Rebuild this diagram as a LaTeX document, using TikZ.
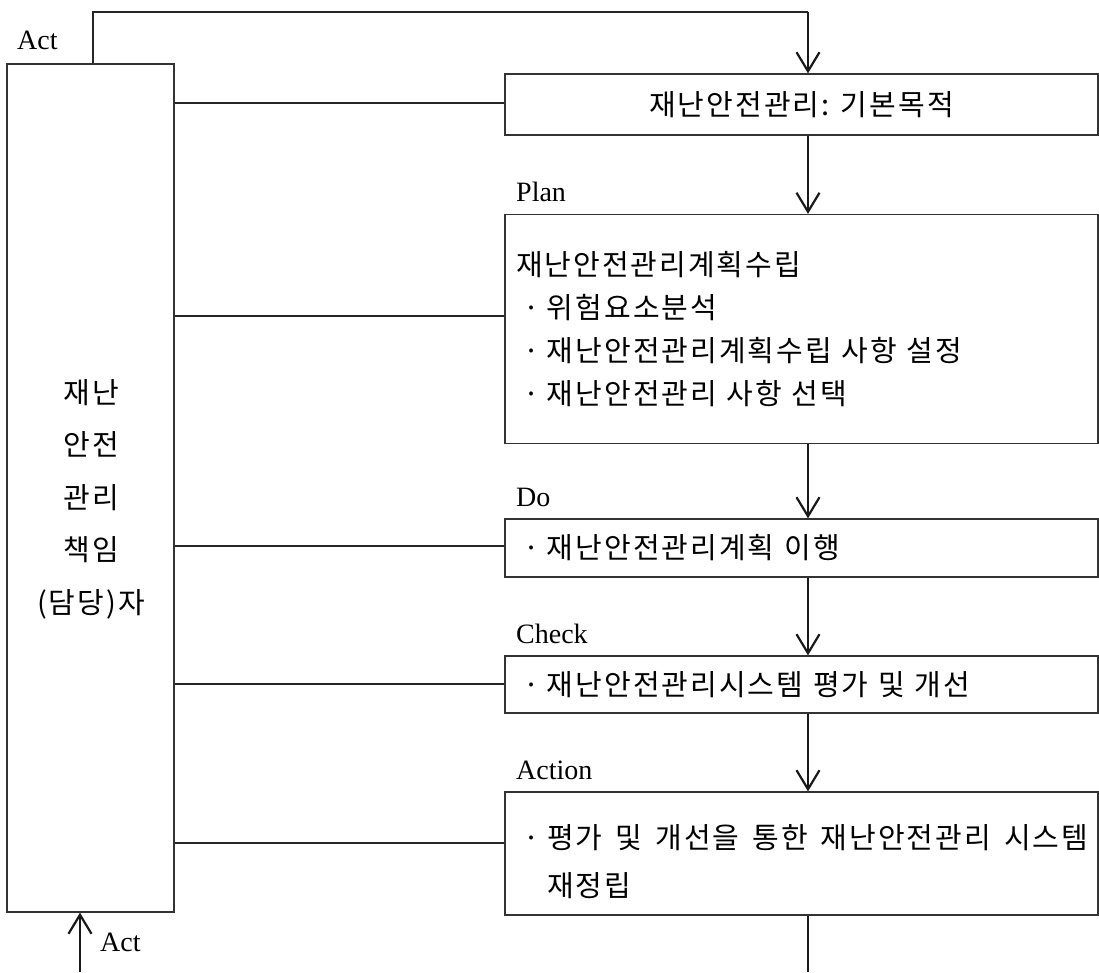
\documentclass[tikz,border=0pt]{standalone}
\usepackage{fontspec}
\setmainfont{Liberation Serif}
\newfontfamily\kr[LetterSpace=7]{Noto Sans CJK KR}
\newcommand\kbul{\makebox[31pt][c]{·}}
\usetikzlibrary{arrows.meta}
\begin{document}
\begin{tikzpicture}[x=1pt,y=-1pt,
  box/.style={draw=black!80, line width=1.3pt, inner sep=0pt, minimum width=593pt, font=\kr\fontsize{29}{43}\selectfont},
  lbox/.style={box, text width=571pt, inner xsep=11pt, align=left},
  conn/.style={draw=black!85, line width=1.3pt},
  flow/.style={draw=black!90, line width=2.2pt, -{Straight Barb[length=19pt,width=23pt,line width=2.2pt]}},
  plain/.style={draw=black!90, line width=2.2pt},
  txt/.style={inner sep=0pt, font=\kr\fontsize{29}{43}\selectfont},
  lbl/.style={font=\fontsize{28}{30}\selectfont, inner sep=0pt, anchor=west}]
\useasboundingbox (0,0) rectangle (1099,972);
% left box
\node[draw=black!80, line width=1.3pt, inner sep=0pt, minimum width=167pt, minimum height=848pt] (L) at (90.5,488) {};
\node[txt, align=center, font=\kr\fontsize{29}{52.5}\selectfont] (Ltext) at (91,499)
  {재난\\안전\\관리\\책임\\(담당)자};
% right boxes
\node[box, minimum height=61pt] (B1) at (801.5,104.5) {재난안전관리: 기본목적};
\node[lbox, minimum height=229pt] (B2) at (801.5,329)
  {재난안전관리계획수립\\\kbul{}위험요소분석\\\kbul{}재난안전관리계획수립 사항 설정\\\kbul{}재난안전관리 사항 선택};
\node[lbox, minimum height=58pt] (B3) at (801.5,548) {\kbul{}재난안전관리계획 이행};
\node[lbox, minimum height=57pt] (B4) at (801.5,684.5) {\kbul{}재난안전관리시스템 평가 및 개선};
\node[box, minimum height=123pt] (B5) at (801.5,853.5) {};
\node[txt, align=left, anchor=west, font=\kr\fontsize{29}{48}\selectfont] (B5text) at (516,862)
  {\makebox[572pt][s]{\kbul{}평가 및 개선을 통한 재난안전관리 시스템}\\\hspace*{31pt}재정립};
% labels
\node[lbl] (actT) at (17,40) {Act};
\node[lbl] (plan) at (516,192) {Plan};
\node[lbl] (do) at (516,497) {Do};
\node[lbl] (check) at (516,634) {Check};
\node[lbl] (action) at (516,770) {Action};
\node[lbl] (actB) at (100,942) {Act};
% reference coordinates
\coordinate (ax) at (808,0);
\coordinate (lx) at (93,0);
\coordinate (bx) at (80,0);
\coordinate (topy) at (0,12);
\coordinate (boty) at (0,972);
% top loop
\draw[conn] (L.north -| lx) -- (lx |- topy) -- (ax |- topy);
\draw[flow] (ax |- topy) -- (B1.north -| ax);
% flow arrows
\draw[flow] (B1.south -| ax) -- (B2.north -| ax);
\draw[flow] (B2.south -| ax) -- (B3.north -| ax);
\draw[flow] (B3.south -| ax) -- (B4.north -| ax);
\draw[flow] (B4.south -| ax) -- (B5.north -| ax);
\draw[plain] (B5.south -| ax) -- (ax |- boty);
\draw[flow] (bx |- boty) -- (L.south -| bx);
% horizontal connectors
\draw[conn] (L.east |- 0,103) -- (B1.west |- 0,103);
\draw[conn] (L.east |- 0,316) -- (B2.west |- 0,316);
\draw[conn] (L.east |- 0,546) -- (B3.west |- 0,546);
\draw[conn] (L.east |- 0,684) -- (B4.west |- 0,684);
\draw[conn] (L.east |- 0,843) -- (B5.west |- 0,843);
\end{tikzpicture}
\end{document}
